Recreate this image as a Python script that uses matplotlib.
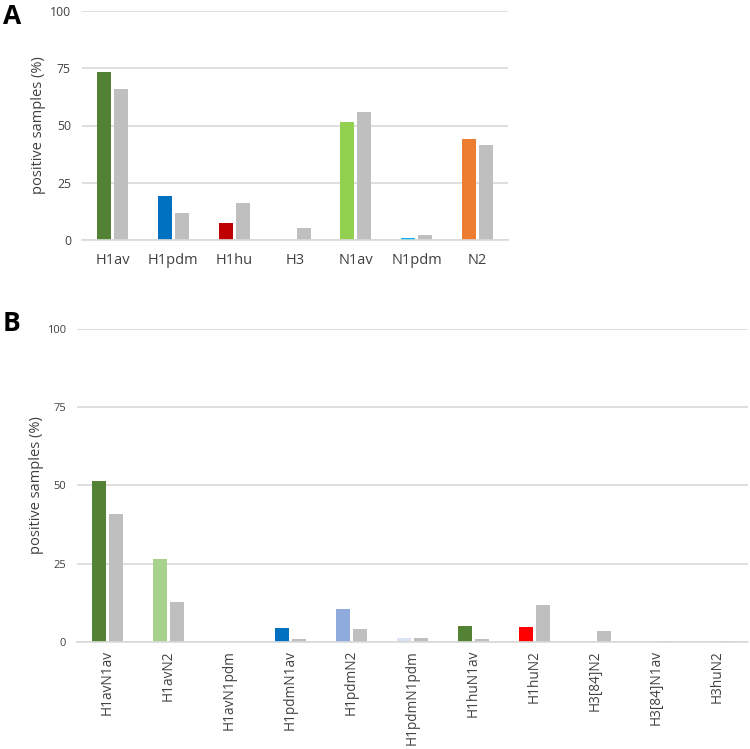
import matplotlib
matplotlib.use("Agg")
import matplotlib.pyplot as plt
import numpy as np

# Panel A data
cats_a = ["H1av", "H1pdm", "H1hu", "H3", "N1av", "N1pdm", "N2"]
vals_a = [73.5, 19.3, 7.4, 0.0, 51.4, 1.0, 44.2]
gray_a = [66.1, 11.9, 16.3, 5.1, 56.0, 2.0, 41.3]
cols_a = ["#548235", "#0070C0", "#C00000", "#FFFFFF", "#92D050", "#00B0F0", "#ED7D31"]

# Panel B data
cats_b = ["H1avN1av", "H1avN2", "H1avN1pdm", "H1pdmN1av", "H1pdmN2", "H1pdmN1pdm",
          "H1huN1av", "H1huN2", "H3[84]N2", "H3[84]N1av", "H3huN2"]
vals_b = [51.5, 26.4, 0.0, 4.3, 10.4, 1.1, 5.0, 4.6, 0.0, 0.0, 0.0]
gray_b = [40.7, 12.8, 0.0, 0.9, 4.0, 1.3, 0.9, 11.7, 3.3, 0.3, 0.3]
cols_b = ["#548235", "#A9D18E", "#FFFFFF", "#0070C0", "#8FAADC", "#DAE3F3",
          "#548235", "#FF0000", "#FFFFFF", "#FFFFFF", "#FFFFFF"]

GRAY = "#BFBFBF"
GRID = "#D9D9D9"
TXT = "#404040"
FONT = ["Open Sans", "DejaVu Sans"]

fig = plt.figure(figsize=(7.5, 7.49), dpi=100)
W, H = 750, 749

def make_axes(left, right, top, bottom):
    return fig.add_axes([left / W, 1 - bottom / H, (right - left) / W, (bottom - top) / H])

def style(ax, n):
    ax.set_xlim(0, n)
    ax.set_ylim(0, 100)
    ax.set_yticks([0, 25, 50, 75, 100])
    for s in ["top", "right", "left"]:
        ax.spines[s].set_visible(False)
    ax.spines["bottom"].set_color(GRID)
    ax.spines["bottom"].set_linewidth(1.2)
    ax.yaxis.grid(True, color=GRID, linewidth=1.2)
    ax.set_axisbelow(True)
    ax.tick_params(axis="both", length=0, colors=TXT)
    for lab in ax.get_xticklabels() + ax.get_yticklabels():
        lab.set_family(FONT)

bw = 0.23
gap = 0.05

# Panel A
axA = make_axes(82, 508, 11, 240)
xa = np.arange(len(cats_a)) + 0.5
axA.bar(xa - (bw + gap) / 2, vals_a, width=bw, color=cols_a)
axA.bar(xa + (bw + gap) / 2, gray_a, width=bw, color=GRAY)
axA.set_xticks(xa)
axA.set_xticklabels(cats_a)
style(axA, len(cats_a))
axA.tick_params(axis="x", pad=9, labelsize=10.5)
axA.tick_params(axis="y", pad=8, labelsize=8.8)
axA.set_ylabel("positive samples (%)", family=FONT, fontsize=10.5, color=TXT, labelpad=3)

# Panel B
axB = make_axes(77, 748, 329, 641.7)
xb = np.arange(len(cats_b)) + 0.5
axB.bar(xb - (bw + gap) / 2, vals_b, width=bw, color=cols_b)
axB.bar(xb + (bw + gap) / 2, gray_b, width=bw, color=GRAY)
axB.set_xticks(xb)
axB.set_xticklabels(cats_b, rotation=90)
style(axB, len(cats_b))
axB.tick_params(axis="x", pad=6, labelsize=9.8)
axB.tick_params(axis="y", pad=8, labelsize=8)
axB.set_ylabel("positive samples (%)", family=FONT, fontsize=10.5, color=TXT, labelpad=2)

fig.text(3 / W, 1 - 24 / H, "A", fontsize=19, fontweight="bold", family=FONT, color="black")
fig.text(3 / W, 1 - 331 / H, "B", fontsize=19, fontweight="bold", family=FONT, color="black")

fig.savefig("out.png", dpi=100, facecolor="white")
